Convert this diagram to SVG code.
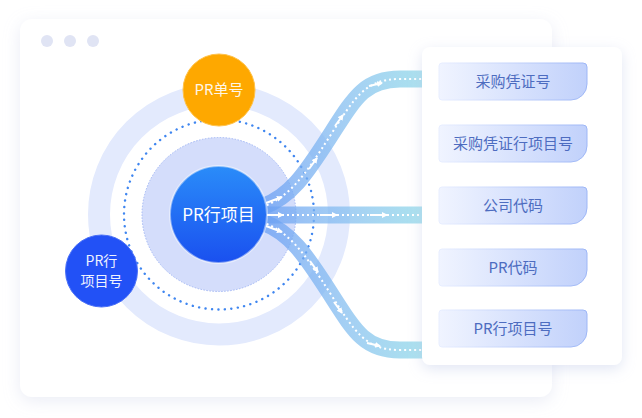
<svg xmlns="http://www.w3.org/2000/svg" width="642" height="418" viewBox="0 0 642 418">
<defs>
<style>
.lbl{font-family:"Noto Sans CJK SC","Noto Sans",sans-serif;text-anchor:middle}
.pilltxt{font-size:15px;fill:#4d6cc0}
.band{fill:none;stroke:url(#bandG);stroke-width:17;stroke-opacity:.75}
.dots{fill:none;stroke:#fff;stroke-width:2;stroke-dasharray:2 3}
.seg{fill:none;stroke:#fff;stroke-width:2;marker-end:url(#arr)}
</style>
<filter id="sh" x="-10%" y="-10%" width="120%" height="125%">
<feDropShadow dx="0" dy="4" stdDeviation="8" flood-color="#c3cbe4" flood-opacity="0.35"/>
</filter>
<filter id="sh2" x="-20%" y="-10%" width="140%" height="125%">
<feDropShadow dx="0" dy="4" stdDeviation="7" flood-color="#b5c0e4" flood-opacity="0.4"/>
</filter>
<linearGradient id="bandG" gradientUnits="userSpaceOnUse" x1="265" y1="0" x2="425" y2="0">
<stop offset="0" stop-color="#6a9ff3"/>
<stop offset="0.5" stop-color="#86bff0"/>
<stop offset="1" stop-color="#8fd8e8"/>
</linearGradient>
<linearGradient id="mainG" x1="0" y1="0" x2="0" y2="1">
<stop offset="0" stop-color="#2a8cf9"/>
<stop offset="1" stop-color="#1a50ef"/>
</linearGradient>
<linearGradient id="pillG" x1="0" y1="0" x2="1" y2="0">
<stop offset="0" stop-color="#f0f4ff"/>
<stop offset="1" stop-color="#c1d1fb"/>
</linearGradient>
<linearGradient id="pillS" x1="0" y1="0" x2="1" y2="0">
<stop offset="0" stop-color="#e8eeff"/>
<stop offset="1" stop-color="#9db6f6"/>
</linearGradient>
<path id="pill" d="M3,0 H144 Q148,0 148,4 V21 A16,16 0 0 1 132,37 H3 Q0,37 0,34 V3 Q0,0 3,0 Z" fill="url(#pillG)" stroke="url(#pillS)" stroke-width="1"/>
<marker id="arr" markerUnits="userSpaceOnUse" markerWidth="7" markerHeight="7" refX="5" refY="3" orient="auto">
<path d="M0,0 L6,3 L0,6 Z" fill="#fff"/>
</marker>
</defs>

<rect width="642" height="418" fill="#fff"/>

<g id="window">
<rect x="20" y="19" width="532" height="378" rx="12" fill="#fff" filter="url(#sh)"/>
<circle cx="47" cy="41" r="6" fill="#e0e4f4"/>
<circle cx="70" cy="41" r="6" fill="#e0e4f4"/>
<circle cx="93" cy="41" r="6" fill="#e0e4f4"/>
</g>

<g id="rings">
<circle cx="219" cy="214.5" r="120" fill="none" stroke="#e3eafd" stroke-width="22"/>
<circle cx="219" cy="214.5" r="77" fill="#d4ddfb" stroke="#a3b8f5" stroke-width="1" stroke-dasharray="1.5 1.5"/>
<circle cx="219" cy="214.5" r="95" fill="none" stroke="#3f86f0" stroke-width="2.4" stroke-linecap="round" stroke-dasharray="0.1 6.4"/>
</g>

<g id="connectors">
<path class="band" d="M262 207 C290 197,305 175,330 136 S365 79,400 79 L430 79"/>
<path class="band" d="M262 215 L430 215"/>
<path class="band" d="M262 222 C290 232,305 254,330 293 S365 350,400 350 L430 350"/>
<path class="dots" d="M262 207 C290 197,305 175,330 136 S365 79,400 79 L430 79"/>
<path class="dots" d="M262 215 L430 215"/>
<path class="dots" d="M262 222 C290 232,305 254,330 293 S365 350,400 350 L430 350"/>
<path class="seg" d="M266 203 L282 197"/>
<path class="seg" d="M309 169 L317 158"/>
<path class="seg" d="M335 126 L343 115"/>
<path class="seg" d="M369 86 L382 83"/>
<path class="seg" d="M266 215 L283 215"/>
<path class="seg" d="M320 215 L337 215"/>
<path class="seg" d="M370 215 L387 215"/>
<path class="seg" d="M266 226 L282 232"/>
<path class="seg" d="M310 261 L318 272"/>
<path class="seg" d="M334 302 L342 313"/>
<path class="seg" d="M367 343 L380 346"/>
</g>

<g id="node-main">
<circle cx="218.5" cy="214.5" r="48.5" fill="url(#mainG)" stroke="#ffffff" stroke-opacity="0.45" stroke-width="2"/>
<text class="lbl" x="218.5" y="221" font-size="17" fill="#fff">PR行项目</text>
</g>

<g id="node-pr-no">
<circle cx="219" cy="90" r="36" fill="#fea800" stroke="#ffc24a" stroke-width="1"/>
<text class="lbl" x="219" y="95" font-size="15" fill="#fff6e6">PR单号</text>
</g>

<g id="node-pr-line-no">
<circle cx="101.5" cy="271" r="36" fill="#2251f6" stroke="#4a70f7" stroke-width="1"/>
<text class="lbl" font-size="14" fill="#eef2ff"><tspan x="101.5" y="265.5">PR行</tspan><tspan x="101.5" y="286">项目号</tspan></text>
</g>

<g id="panel">
<rect x="422" y="47" width="200" height="318" rx="8" fill="#fff" filter="url(#sh2)"/>
</g>

<g id="field-1">
<use href="#pill" x="439" y="63"/>
<text class="lbl pilltxt" x="513" y="87">采购凭证号</text>
</g>
<g id="field-2">
<use href="#pill" x="439" y="125"/>
<text class="lbl pilltxt" x="513" y="149">采购凭证行项目号</text>
</g>
<g id="field-3">
<use href="#pill" x="439" y="187"/>
<text class="lbl pilltxt" x="513" y="211">公司代码</text>
</g>
<g id="field-4">
<use href="#pill" x="439" y="249"/>
<text class="lbl pilltxt" x="513" y="273">PR代码</text>
</g>
<g id="field-5">
<use href="#pill" x="439" y="310"/>
<text class="lbl pilltxt" x="513" y="334">PR行项目号</text>
</g>
</svg>
